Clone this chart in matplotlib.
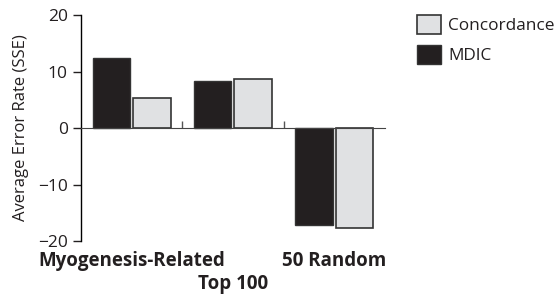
import matplotlib.pyplot as plt
import matplotlib.transforms as mtransforms
import numpy as np

plt.rcParams['font.family'] = ['Open Sans', 'DejaVu Sans']

# values
groups = ["Myogenesis-Related", "Top 100", "50 Random"]
mdic = [12.4, 8.4, -17.1]
concordance = [5.4, 8.7, -17.6]

x = np.arange(len(groups))
w = 0.37

fig = plt.figure(figsize=(5.54, 3.01), dpi=100)
ax = fig.add_axes([0.146, 0.199, 0.549, 0.751])

edge = '#333333'
ax.bar(x - 0.2, mdic, w, color='#231f20', edgecolor=edge, linewidth=1, label='MDIC')
ax.bar(x + 0.2, concordance, w, color='#e0e1e3', edgecolor=edge, linewidth=1.2, label='Concordance')

ax.set_xlim(-0.5, 2.5)
ax.set_ylim(-20, 20)
ax.set_yticks([-20, -10, 0, 10, 20])
ax.set_ylabel("Average Error Rate (SSE)", fontsize=12, color='#231f20', labelpad=6)
ax.tick_params(axis='y', direction='out', length=6, width=1, labelsize=12.5, colors='#231f20')

# x axis drawn through zero, with small separators between groups
ax.spines['top'].set_visible(False)
ax.spines['right'].set_visible(False)
ax.spines['bottom'].set_position(('data', 0))
ax.spines['bottom'].set_color('#444444')
ax.spines['left'].set_linewidth(1)
ax.set_xticks([0.5, 1.5])
ax.set_xticklabels([])
ax.tick_params(axis='x', direction='in', length=5, width=1, colors='#555555')

# staggered bold group labels
trans = mtransforms.blended_transform_factory(ax.transData, ax.transAxes)
label_y = [-0.09, -0.19, -0.09]
for xi, name, ly in zip(x, groups, label_y):
    ax.text(xi, ly, name, transform=trans, ha='center', va='center',
            fontsize=13.5, fontweight='bold', color='#231f20')

handles, labels = ax.get_legend_handles_labels()
fig.legend(handles[::-1], labels[::-1], loc='upper left', bbox_to_anchor=(0.747, 0.962),
           frameon=False, fontsize=12.4, handlelength=1.4, handleheight=1.35,
           handletextpad=0.4, labelspacing=0.6, labelcolor='#231f20',
           borderaxespad=0, borderpad=0.2)

fig.savefig("out.png", dpi=100)
